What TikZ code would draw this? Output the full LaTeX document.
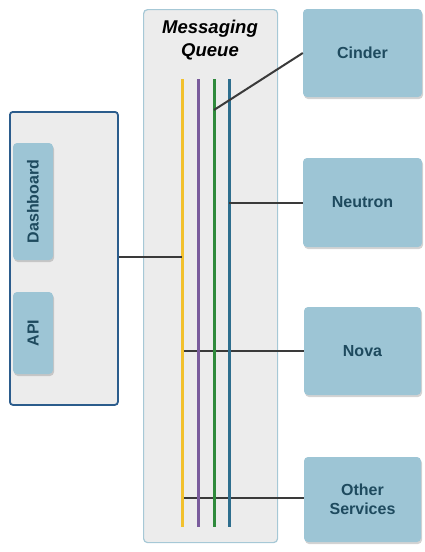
\documentclass[tikz,border=0pt]{standalone}
\usepackage{fontspec}
\setmainfont{Liberation Sans}
\usetikzlibrary{shadows}
\definecolor{svcfill}{HTML}{9DC5D5}
\definecolor{svctext}{HTML}{1E4A5E}
\definecolor{mqfill}{HTML}{ECECEC}
\definecolor{mqborder}{HTML}{A6C8D6}
\definecolor{leftborder}{HTML}{2B5C8C}
\definecolor{busyellow}{HTML}{F2C12E}
\definecolor{buspurple}{HTML}{7A5C9C}
\definecolor{busgreen}{HTML}{2F8A3C}
\definecolor{busteal}{HTML}{2E6E8E}
\definecolor{wire}{HTML}{3A3A3A}
\tikzset{
  svc/.style={draw=none, fill=svcfill, rounded corners=4pt, text=svctext,
    font=\bfseries\fontsize{16}{19}\selectfont, align=center,
    drop shadow={shadow xshift=1pt, shadow yshift=-2pt, opacity=0.35}},
  vsvc/.style={svc, font=\bfseries\fontsize{16}{19}\selectfont},
  bus/.style={line width=3pt},
  wireline/.style={draw=wire, line width=2pt},
}
\begin{document}
\begin{tikzpicture}[x=1pt,y=-1pt]
\useasboundingbox (0,0) rectangle (424,552);
% messaging queue box
\node[draw=mqborder, fill=mqfill, line width=1.2pt, rounded corners=4pt, minimum width=134pt, minimum height=533pt, anchor=north west, inner sep=0pt] (mq) at (143,9) {};
\node[font=\bfseries\itshape\fontsize{18.5}{23}\selectfont, align=center, anchor=north] (mqt) at (210,17) {Messaging\\Queue};
% left box
\node[draw=leftborder, fill=mqfill, line width=1.8pt, rounded corners=3pt, minimum width=108pt, minimum height=293pt, anchor=north west, inner sep=0pt] (left) at (9,111) {};
\node[vsvc, minimum width=117pt, minimum height=40pt, rotate=90] (dash) at (33,201.5) {Dashboard};
\node[vsvc, minimum width=82pt, minimum height=40pt, rotate=90] (api) at (33,333) {API};
% services
\node[svc, minimum width=119pt, minimum height=88pt] (cinder) at (362.5,53) {Cinder};
\node[svc, minimum width=119pt, minimum height=89pt] (neutron) at (362.5,202.5) {Neutron};
\node[svc, minimum width=117pt, minimum height=88pt] (nova) at (362.5,351) {Nova};
\node[svc, minimum width=117pt, minimum height=85pt] (other) at (362.5,499.5) {Other\\Services};
% buses
\coordinate (yt) at (182,79); \coordinate (yb) at (182,527);
\coordinate (pt) at (198,79); \coordinate (pb) at (198,527);
\coordinate (gt) at (214,79); \coordinate (gb) at (214,527);
\coordinate (tt) at (229,79); \coordinate (tb) at (229,527);
% connection points
\coordinate (cg) at (214,110);
\coordinate (nt) at (229,202.5);
\coordinate (ly) at (182,257);
\coordinate (vy) at (182,351);
\coordinate (oy) at (182,498);
% wires behind buses where they cross
\draw[wireline] (vy) -- (vy -| nova.west);
\draw[wireline] (oy) -- (oy -| other.west);
\draw[bus, busyellow] (yt) -- (yb);
\draw[bus, buspurple] (pt) -- (pb);
\draw[bus, busgreen] (gt) -- (gb);
\draw[bus, busteal] (tt) -- (tb);
\draw[wireline] (left.east |- ly) -- (ly);
\draw[wireline] (cg) -- (cinder.west);
\draw[wireline] (nt) -- (neutron.west);
\end{tikzpicture}
\end{document}
